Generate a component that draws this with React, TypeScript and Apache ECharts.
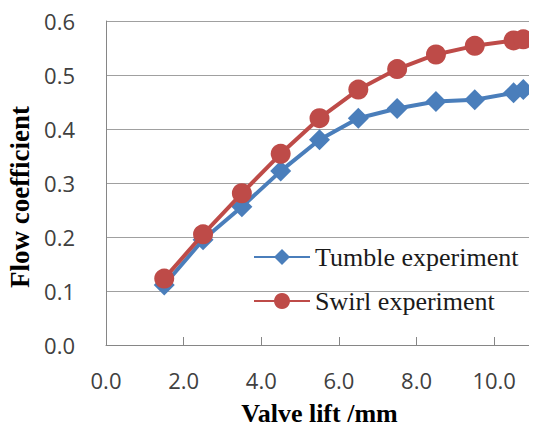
import React, { useEffect, useRef } from "react";
import * as echarts from "echarts";

const valveLift = [1.5, 2.5, 3.5, 4.5, 5.5, 6.5, 7.5, 8.5, 9.5, 10.5, 10.75];
const tumble = [0.111, 0.195, 0.256, 0.322, 0.38, 0.42, 0.438, 0.451, 0.454, 0.467, 0.473];
const swirl = [0.123, 0.205, 0.281, 0.354, 0.42, 0.473, 0.511, 0.538, 0.554, 0.564, 0.566];
const xTicks = [0, 2, 4, 6, 8, 10];
const seriesNames = ["Tumble experiment", "Swirl experiment"];

export default function App() {
  const ref = useRef<HTMLDivElement>(null);
  useEffect(() => {
    if (!ref.current) return;
    const chart = echarts.init(ref.current, null, { renderer: "svg" });
    const pair = (ys: number[]) => valveLift.map((x, i) => [x, ys[i]]);
    const serif = "'Liberation Serif', 'Times New Roman', serif";
    chart.setOption({
      animation: false,
      grid: { left: 106, right: 4, top: 21, bottom: 85, outerBoundsMode: "none", containLabel: false },
      legend: {
        orient: "vertical",
        left: 253,
        top: 244,
        padding: 0,
        itemWidth: 56,
        itemHeight: 20,
        itemGap: 18,
        textStyle: { fontFamily: serif, fontSize: 26, lineHeight: 26, color: "#1a1a1a" },
        data: seriesNames,
      },
      xAxis: {
        type: "value",
        min: 0,
        max: 11,
        interval: 2,
        name: "Valve lift /mm",
        nameLocation: "middle",
        nameGap: 55,
        nameTextStyle: { fontFamily: serif, fontWeight: "bold", fontSize: 26, color: "#000" },
        axisLine: { show: true, lineStyle: { color: "#868686", width: 1 } },
        axisTick: { show: true, inside: true, length: 8, lineStyle: { color: "#868686" }, customValues: xTicks },
        axisLabel: {
          customValues: xTicks,
          margin: 24,
          fontFamily: "Open Sans",
          fontSize: 22,
          color: "#404040",
          formatter: (v: number) => v.toFixed(1),
        },
        splitLine: { show: false },
      },
      yAxis: {
        type: "value",
        min: 0,
        max: 0.6,
        interval: 0.1,
        name: "Flow coefficient",
        nameLocation: "middle",
        nameGap: 66,
        nameTextStyle: { fontFamily: serif, fontWeight: "bold", fontSize: 27, color: "#000", padding: [0, 28, 0, 0] },
        axisLine: { show: true, lineStyle: { color: "#868686", width: 1 } },
        axisTick: { show: false },
        axisLabel: {
          margin: 31,
          fontFamily: "Open Sans",
          fontSize: 22,
          color: "#404040",
          formatter: (v: number) => v.toFixed(1),
        },
        splitLine: { show: true, lineStyle: { color: "#a0a0a0", width: 1 } },
      },
      series: [
        {
          name: seriesNames[0],
          type: "line",
          data: pair(tumble),
          symbol: "diamond",
          symbolSize: 21,
          color: "#4a7ebb",
          lineStyle: { width: 4, color: "#4a7ebb" },
          itemStyle: { color: "#4a7ebb" },
          z: 2,
        },
        {
          name: seriesNames[1],
          type: "line",
          data: pair(swirl),
          symbol: "circle",
          symbolSize: 20,
          color: "#be4b48",
          lineStyle: { width: 4, color: "#be4b48" },
          itemStyle: { color: "#be4b48" },
          z: 3,
        },
      ],
    });
    return () => chart.dispose();
  }, []);
  return <div ref={ref} style={{ width: 537, height: 430, margin: -8 }} />;
}
